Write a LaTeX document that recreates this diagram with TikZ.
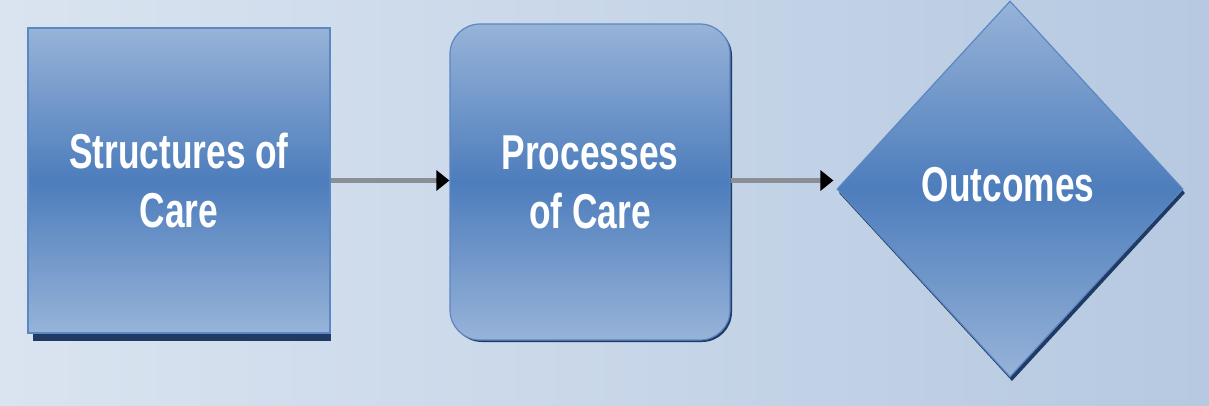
\documentclass[tikz,border=0pt]{standalone}
\usepackage{fontspec}
\setmainfont{Liberation Sans}
\newfontfamily\narrowfont[FakeStretch=0.72]{Liberation Sans}
\usetikzlibrary{shapes.geometric,arrows.meta,calc}
\definecolor{bgA}{HTML}{DAE4F0}
\definecolor{bgB}{HTML}{B6C9E1}
\definecolor{boxLight}{HTML}{97B3D8}
\definecolor{boxMid}{HTML}{4D7DBC}
\definecolor{boxEdge}{HTML}{5B87C2}
\definecolor{boxShadow}{HTML}{1F3A63}
\definecolor{lineGray}{HTML}{8A8F96}
\tikzset{
  flowtext/.style={text=white, font=\narrowfont\bfseries\fontsize{49}{59}\selectfont},
  flowbox/.style={draw=boxEdge, line width=1.2pt, top color=boxLight, bottom color=boxLight, middle color=boxMid,
    align=center, inner sep=0pt, flowtext},
  shadowbox/.style={fill=boxShadow, draw=none, inner sep=0pt},
  flowarrow/.style={draw=lineGray, line width=4.5pt, -{Triangle[length=13pt,width=20pt,color=black]}}
}
\begin{document}
\begin{tikzpicture}[x=1pt,y=-1pt]
\useasboundingbox (0,0) rectangle (1209,405);
\shade[left color=bgA, right color=bgB] (0,0) rectangle (1209,405);
% shadows
\node[shadowbox, minimum width=298pt, minimum height=305pt] (s1sh) at (182,188.5) {};
\node[shadowbox, rounded corners=30pt, minimum width=280pt, minimum height=316pt] (psh) at (592,184) {};
\node[shadowbox, diamond, minimum width=346pt, minimum height=376pt] (osh) at (1012,193) {};
% main shapes
\node[flowbox, minimum width=302pt, minimum height=305pt] (s1) at (179,180.5) {Structures of\\Care};
\node[flowbox, rounded corners=30pt, minimum width=280pt, minimum height=316pt] (p) at (590,182) {Processes\\of Care};
\node[flowbox, diamond, minimum width=346pt, minimum height=376pt] (o) at (1010,189) {};
\node[flowtext, inner sep=0pt] (ot) at (1008,185) {Outcomes};
% connectors
\draw[flowarrow] (s1.east) -- (s1.east -| p.west);
\draw[flowarrow] (p.east |- s1.east) -- ($(o.west |- s1.east)+(-3,0)$);
\end{tikzpicture}
\end{document}
